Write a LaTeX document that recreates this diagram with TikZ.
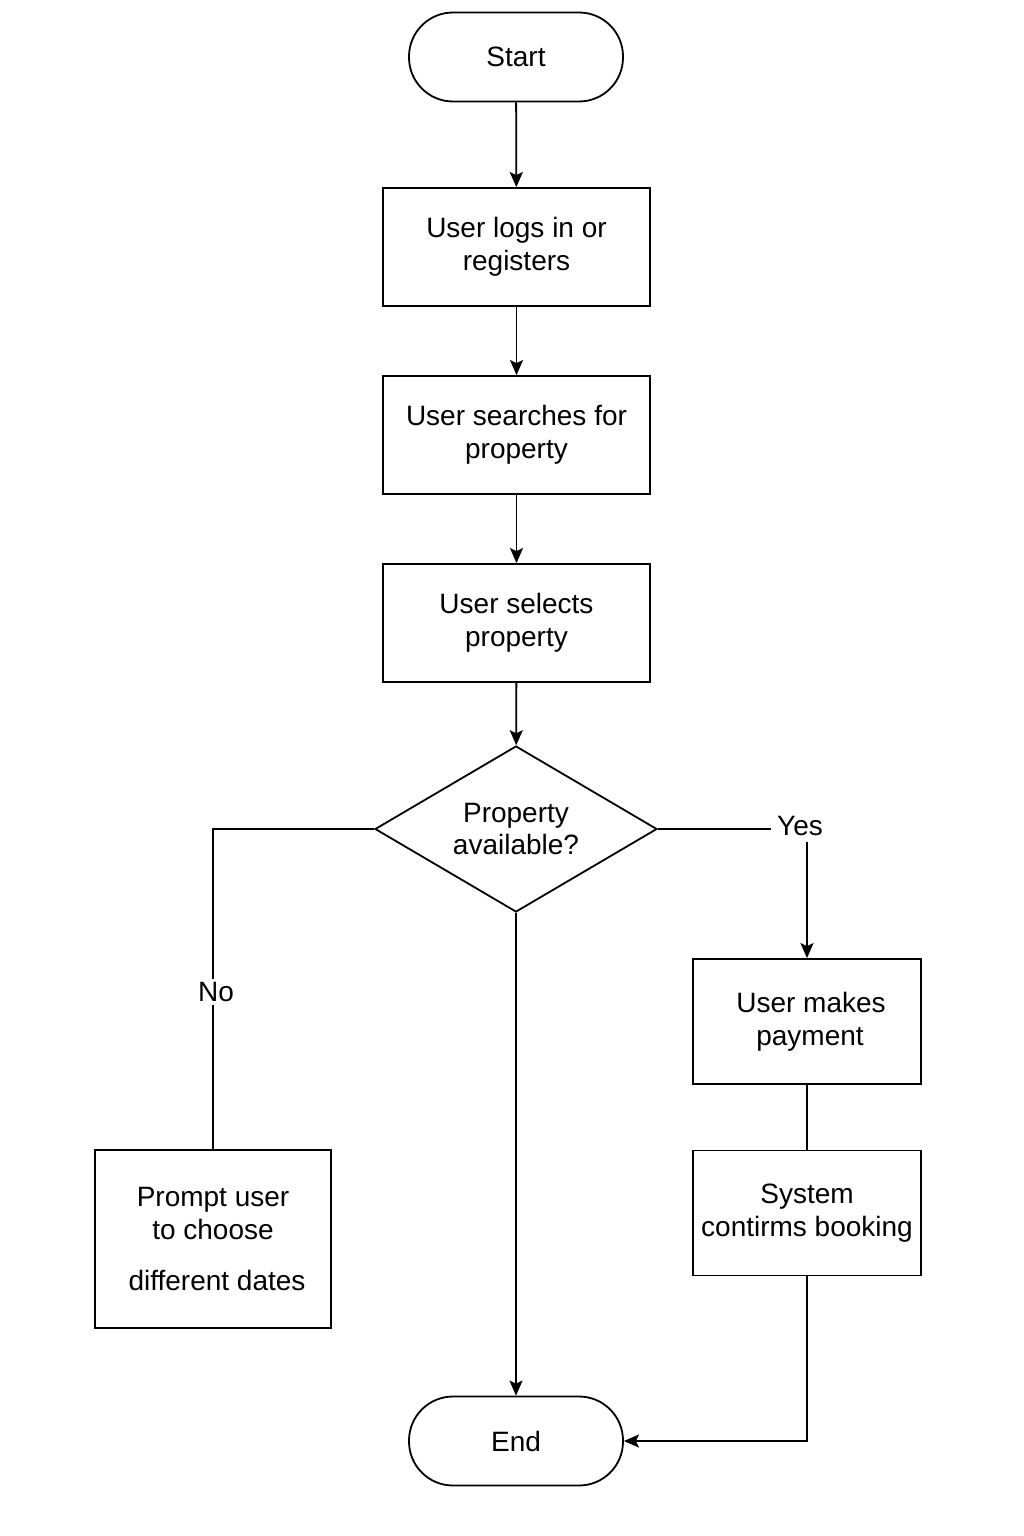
\documentclass[tikz,border=0pt]{standalone}
\usepackage{fontspec}
\setmainfont{Liberation Sans}
\usetikzlibrary{shapes.geometric,arrows.meta}
\begin{document}
\begin{tikzpicture}[x=1pt,y=-1pt,
  every node/.style={font=\fontsize{28}{32.5}\selectfont, align=center, inner sep=0pt},
  term/.style={draw, line width=1.8pt, rounded corners=44pt, minimum width=214pt, minimum height=89pt},
  proc/.style={draw, line width=1.8pt, minimum width=267pt, minimum height=118pt},
  sproc/.style={draw, line width=1.8pt, minimum width=228pt, minimum height=125pt},
  dec/.style={draw, line width=1.8pt, diamond, aspect=1.7, minimum width=282pt, minimum height=166pt},
  conn/.style={line width=1.8pt},
  arr/.style={conn, -{Stealth[length=15pt,width=13pt,inset=3pt]}},
  lbl/.style={fill=white, inner sep=3pt}
]
\useasboundingbox (0,0) rectangle (1024,1536);
\fill[white] (0,0) rectangle (1024,1536);

\node[term] (start) at (516,57) {Start};
\node[proc] (login) at (516.5,247) {User logs in or\\registers};
\node[proc] (search) at (516.5,435) {User searches for\\property};
\node[proc] (select) at (516.5,623) {User selects\\property};
\node[dec] (avail) at (516,829) {Property\\available?};
\node[sproc] (pay) at (807,1021.5) {\hspace*{8pt}User makes\\\hspace*{6pt}payment};
\node[sproc] (confirm) at (807,1213) {System\\contirms booking};
\node[draw, line width=1.8pt, minimum width=236pt, minimum height=178pt] (prompt) at (213,1239) {Prompt user\\to choose\\[19pt]\hspace*{8pt}different dates};
\node[term] (end) at (516,1441) {End};

\node[inner sep=0pt] (yes) at (800,826) {Yes};

\coordinate (lcorner) at (213,829);
\coordinate (ystart) at (807,842);

\draw[arr] (start) -- (login);
\draw[arr] (login) -- (search);
\draw[arr] (search) -- (select);
\draw[arr] (select) -- (avail);
\draw[arr] (avail.south) -- (end.north);
\draw[conn] (avail.east) -- ([xshift=-6pt]avail.east -| yes.west);
\draw[arr] (ystart) -- (pay.north);
\draw[conn] (pay) -- (confirm);
\draw[arr] (confirm.south) |- (end.east);
\draw[conn] (avail.west) -- (lcorner) -- (prompt.north);
\node[lbl] (no) at (216,992) {No};
\end{tikzpicture}
\end{document}
